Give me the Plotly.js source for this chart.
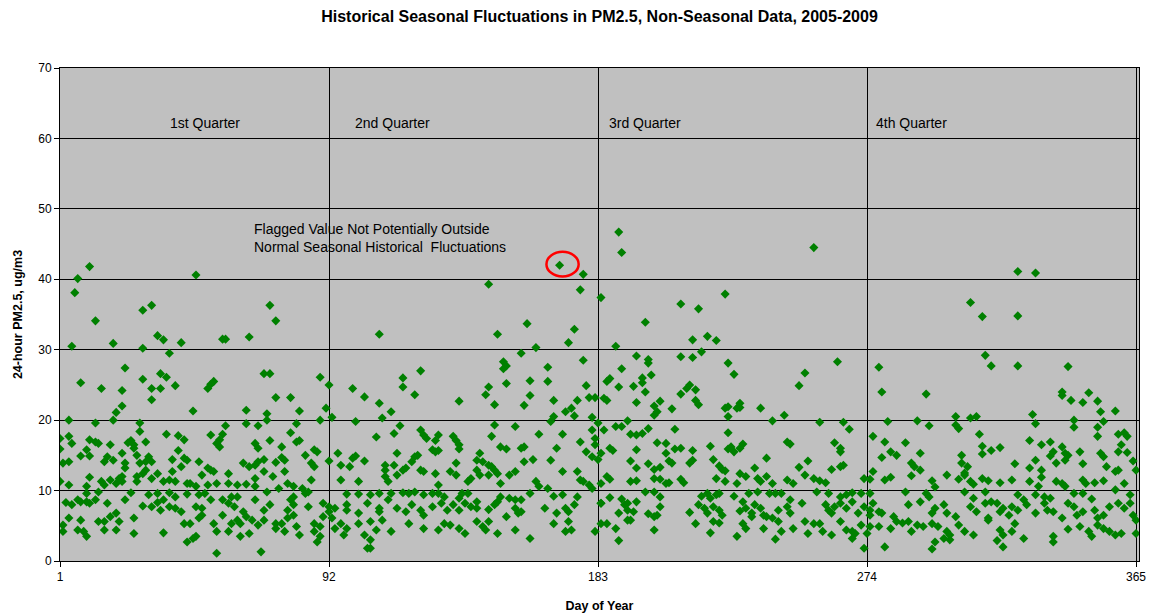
<!DOCTYPE html>
<html>
<head>
<meta charset="utf-8">
<script src="https://cdn.plot.ly/plotly-3.0.1.min.js"></script>
<style>html,body{margin:0;padding:0;background:#fff;}#chart{width:1154px;height:613px;}</style>
</head>
<body>
<div id="chart"></div>
<script>
// Day-of-year / 24-hour PM2.5 (ug/m3) readings, grouped by quarter
const q1Points = [
[11,41.8],[7,40.1],[6,38.1],[47,40.6],[29,35.6],[32,36.3],[13,34.1],[72,36.3],[74,34.1],[5,30.5],[19,30.9],[29,30.2],[34,32.0],[36,31.4],[38,29.5],[42,31.0],[56,31.5],[57,31.5],[65,31.8],[8,25.3],[15,24.5],[23,27.4],[22,24.2],[29,25.8],[32,24.5],[35,24.5],[35,26.6],[37,26.1],[40,24.9],[32,22.9],[22,22.0],[20,21.1],[46,21.3],[51,24.5],[53,25.5],[52,25.1],[64,21.4],[70,26.6],[72,26.6],[74,23.2],[79,23.2],[82,21.3],[71,20.9],[89,26.1],[92,25.0],[91,21.7],[93,20.4],
[4,20.0],[13,19.6],[19,20.0],[28,19.6],[57,19.2],[64,19.5],[68,19.2],[71,20.0],[81,19.5],[89,20.0],
[1,17.4],[4,17.7],[5,16.7],[11,17.2],[13,16.9],[14,16.7],[18,16.5],[24,16.8],[25,17.1],[26,16.5],[28,18.4],[30,16.9],[37,18.0],[41,17.8],[43,17.2],[52,17.9],[54,16.7],[55,17.2],[56,18.0],[55,16.2],[67,16.7],[68,16.0],[72,17.1],[76,16.2],[79,18.2],[81,16.9],[82,17.1],[87,15.8],[88,15.5],
[1,15.9],[2,13.9],[4,14.1],[8,14.9],[10,15.8],[11,14.9],[16,14.1],[17,14.8],[19,14.3],[22,15.3],[23,13.9],[26,16.0],[27,15.0],[28,13.9],[30,14.1],[31,14.8],[32,14.1],[39,14.4],[41,15.7],[43,14.6],[44,14.3],[42,13.4],[48,14.1],[51,13.2],[52,12.9],[53,12.7],[58,12.4],[63,13.9],[65,13.4],[67,13.6],[68,14.1],[70,14.4],[70,12.7],[74,14.0],[76,14.7],[77,14.3],[77,12.7],[84,15.0],[86,13.9],[92,14.2],[87,13.4],
[1,11.3],[4,10.8],[10,10.6],[11,11.9],[15,11.3],[16,10.8],[18,11.5],[20,11.0],[21,11.7],[22,12.0],[23,13.2],[22,11.3],[27,12.0],[27,11.3],[29,12.4],[30,12.9],[32,11.7],[34,12.4],[36,11.3],[38,11.5],[39,12.7],[40,11.3],[44,11.0],[45,11.0],[47,10.6],[49,12.2],[51,10.8],[54,11.0],[58,11.0],[61,10.8],[64,10.9],[67,11.7],[67,10.6],[73,12.0],[75,10.3],[78,11.0],[80,10.6],[83,10.3],[86,11.5],
[10,9.6],[14,9.8],[25,9.7],[31,9.4],[34,9.6],[38,9.7],[40,9.1],[44,9.5],[48,9.4],[50,9.6],[61,9.1],[71,9.8],[80,9.1],[84,9.6],[85,9.8],
[3,8.3],[5,8.0],[7,8.7],[8,8.4],[10,8.4],[11,8.2],[13,8.7],[17,8.2],[23,8.7],[29,7.8],[32,7.7],[34,8.3],[36,8.7],[35,7.2],[38,7.7],[40,7.5],[42,7.0],[47,7.7],[49,7.5],[52,8.7],[56,8.7],[58,8.2],[60,7.7],[59,9.1],[63,7.0],[67,8.7],[70,7.2],[72,8.0],[78,7.2],[79,8.7],[80,8.0],[85,7.7],[90,8.2],[92,7.0],
[4,6.1],[8,5.8],[2,5.1],[14,5.6],[16,5.6],[18,6.3],[20,6.8],[21,5.6],[26,6.1],[43,5.3],[45,5.3],[49,6.5],[48,6.1],[53,5.3],[56,6.5],[59,5.3],[61,5.8],[62,5.3],[64,6.3],[66,5.8],[68,5.1],[70,5.8],[74,5.3],[76,5.3],[78,6.1],[80,6.5],[81,4.9],[87,5.3],[89,4.9],[90,6.3],
[2,4.2],[7,4.4],[9,4.2],[10,3.5],[16,4.4],[20,4.4],[26,3.9],[36,4.0],[44,2.7],[46,3.2],[47,3.5],[54,4.2],[58,4.2],[62,3.5],[65,3.9],[74,4.6],[77,4.2],[82,3.7],[87,4.2],[88,2.7],[89,3.5],
[54,1.1],[69,1.3]
];
const q2Points = [
[170,42.0],[178,40.7],[177,38.5],[184,37.4],[146,39.3],[109,32.2],[149,32.2],[159,33.7],[175,32.9],[173,31.0],[162,30.3],[157,29.5],[178,28.5],[151,28.3],[152,27.7],[151,27.3],[166,27.5],[123,27.0],[117,26.0],[117,24.7],[100,24.5],[104,23.3],[109,22.4],[113,21.2],[110,20.3],[121,23.6],[136,22.7],[146,24.7],[145,23.6],[148,22.2],[152,25.2],[160,25.6],[160,23.5],[158,22.1],[166,25.5],[168,22.8],[179,24.9],[176,22.8],[180,23.2],[182,23.2],[172,21.2],[174,21.7],[175,20.6],[181,20.4],[168,20.5],[167,19.8],[101,19.8],
[114,18.1],[116,19.2],[148,19.3],[155,19.1],[181,18.6],
[108,17.6],[123,18.6],[124,17.9],[125,17.4],[128,17.1],[129,17.9],[134,17.7],[135,17.1],[136,16.5],[147,17.7],[150,16.2],[152,15.9],[158,16.2],[157,16.0],[163,18.0],[169,16.0],[171,18.0],[177,16.9],[182,17.4],[185,18.6],
[95,15.3],[96,13.6],[100,14.6],[101,14.9],[104,14.2],[99,13.4],[115,15.3],[111,13.6],[114,13.6],[118,13.2],[121,14.8],[122,15.0],[120,14.1],[127,15.8],[129,15.7],[128,15.5],[136,15.9],[135,13.9],[142,14.3],[143,15.3],[144,14.1],[146,13.6],[147,13.4],[158,14.1],[161,14.4],[167,14.3],[179,15.5],[181,14.8],[182,16.5],[184,15.3],
[96,11.5],[102,11.3],[111,12.9],[111,12.0],[112,11.3],[115,12.2],[117,12.9],[123,12.9],[124,12.7],[128,12.4],[129,10.8],[133,12.7],[135,12.2],[139,11.3],[140,11.7],[142,12.9],[143,12.2],[146,12.2],[148,12.9],[149,12.4],[150,11.0],[153,12.2],[155,12.7],[162,11.3],[163,10.6],[166,10.3],[171,12.7],[176,12.7],[177,11.5],[178,11.3],[180,10.8],[181,10.3],[184,11.0],
[98,9.5],[102,9.5],[106,9.4],[109,9.6],[113,9.6],[117,9.7],[119,9.6],[121,9.8],[124,9.4],[127,9.6],[129,9.6],[131,9.1],[136,8.9],[137,9.6],[139,9.6],[142,8.4],[150,9.1],[153,8.9],[155,8.7],[157,8.7],[160,9.6],[168,9.2],[171,9.4],[176,9.1],[184,8.2],
[92,7.7],[94,7.5],[98,8.0],[98,7.2],[102,6.8],[105,8.2],[109,7.5],[109,7.0],[112,8.7],[115,7.5],[118,7.0],[120,8.0],[123,7.2],[124,6.5],[127,7.7],[130,8.2],[132,7.2],[134,8.0],[136,7.2],[138,8.2],[140,7.7],[142,7.5],[146,7.3],[148,8.0],[149,8.4],[152,6.3],[155,7.5],[156,6.8],[157,7.0],[165,7.5],[169,6.8],[172,7.5],[173,7.0],[175,8.0],
[93,6.1],[94,4.6],[96,5.3],[98,4.6],[97,3.7],[102,5.3],[106,5.6],[110,5.8],[108,4.4],[104,3.7],[113,4.2],[119,5.3],[124,4.6],[129,4.4],[131,5.3],[133,5.1],[136,4.6],[138,3.9],[142,5.6],[144,4.9],[145,4.4],[146,5.6],[149,3.9],[155,4.4],[168,5.3],[173,5.6],[172,4.2],[174,4.4],[182,4.2],[184,5.3],
[105,1.8],[106,1.8],[106,3.0],[160,3.2]
];
const q3Points = [
[190,46.7],[191,43.8],[256,44.5],[226,37.9],[211,36.5],[217,35.8],[199,33.9],[215,31.4],[220,31.9],[223,31.3],[189,30.5],[218,29.7],[196,29.1],[200,28.6],[200,28.1],[211,29.0],[215,28.9],[227,28.1],[229,26.5],[264,28.3],[253,26.7],[251,24.9],[191,27.3],[187,25.9],[186,25.5],[190,24.7],[198,26.0],[198,25.3],[201,26.4],[195,24.8],[199,24.0],[185,23.1],[186,22.8],[196,22.5],[204,22.7],[202,22.0],[203,21.2],[202,20.7],[208,21.6],[211,23.7],[213,24.5],[214,25.0],[216,24.3],[216,22.8],[217,22.2],[226,21.7],[227,21.9],[227,20.5],[231,22.4],[231,21.8],[230,21.7],[238,21.7],[242,19.9],[246,20.7],[258,19.7],[266,19.7],[193,19.9],
[183,19.6],[189,19.1],[191,19.1],[194,18.0],[196,17.9],[198,18.1],[200,18.8],[209,18.7],[227,18.2],[268,18.7],
[187,16.0],[188,15.7],[196,15.8],[203,16.8],[206,16.7],[206,15.3],[209,15.9],[211,16.0],[215,15.7],[221,16.3],[227,15.9],[228,16.2],[229,15.5],[231,16.0],[232,16.6],[247,16.9],[248,16.6],[263,16.8],[265,16.0],[265,15.5],
[183,14.4],[194,14.2],[196,13.2],[200,13.8],[202,13.0],[204,13.3],[207,14.2],[208,13.9],[214,13.9],[215,14.3],[222,14.4],[224,13.5],[225,13.0],[226,12.8],[240,14.6],[251,13.3],[254,14.2],[262,13.0],[265,13.4],[266,13.6],
[186,12.0],[187,11.6],[194,11.3],[196,11.4],[202,11.7],[204,11.6],[206,11.0],[207,11.1],[211,11.6],[212,11.1],[223,11.7],[226,11.3],[230,11.0],[231,12.4],[233,12.0],[236,13.2],[237,11.7],[238,11.3],[240,12.0],[242,11.0],[247,11.5],[249,11.0],[253,12.2],[256,11.7],[258,11.4],[260,11.1],[273,11.7],[275,11.6],
[184,8.2],[187,9.0],[191,8.8],[193,8.2],[196,8.4],[199,9.8],[202,9.8],[204,9.1],[218,9.2],[220,9.6],[221,8.9],[223,9.4],[224,9.6],[229,9.2],[232,8.4],[234,9.6],[237,9.8],[241,9.6],[243,9.6],[245,9.6],[248,8.7],[257,9.8],[261,9.6],[265,9.1],[267,9.4],[269,9.7],[272,9.6],[275,9.6],
[190,6.8],[192,8.0],[193,7.2],[195,7.0],[200,6.7],[202,6.3],[204,7.7],[203,6.5],[214,6.9],[217,8.0],[219,7.5],[220,6.8],[222,7.7],[224,7.2],[225,6.5],[231,7.1],[233,7.5],[235,6.8],[236,8.0],[238,7.5],[239,6.5],[240,6.3],[244,7.2],[247,7.7],[248,6.8],[252,8.2],[260,8.0],[261,7.2],[262,6.8],[263,7.7],[265,8.2],[267,7.5],[269,8.4],[271,6.8],[273,7.7],[275,7.2],
[186,5.3],[189,4.6],[193,5.8],[194,5.8],[202,4.4],[216,5.3],[222,5.6],[224,5.4],[221,4.0],[230,3.5],[232,5.3],[233,4.6],[235,6.3],[239,4.6],[242,6.1],[244,5.6],[245,4.2],[249,4.6],[253,5.6],[254,3.9],[256,5.3],[258,5.3],[259,4.2],[262,3.7],[265,5.6],[267,4.4],[269,4.2],[270,3.9],[272,5.1],[274,3.9],[275,4.9],
[190,2.9],[243,3.1],[269,3.2],[273,1.8]
];
const q4Points = [
[325,41.1],[331,40.9],[309,36.7],[313,34.7],[325,34.8],[314,29.2],[316,27.7],[325,27.7],[342,27.6],[278,27.5],[279,24.0],[294,23.7],[340,24.0],[340,23.5],[343,22.8],[349,23.9],[347,22.5],[352,22.7],[353,21.2],[358,21.3],[330,20.8],[304,20.5],[309,20.3],[311,20.5],[281,19.8],[291,19.9],[344,20.0],[354,19.8],
[295,19.2],[304,19.3],[305,18.8],[331,19.5],[344,19.0],[352,19.0],
[276,17.7],[280,16.9],[287,16.8],[292,15.3],[282,15.5],[284,15.0],[279,14.7],[306,15.0],[312,18.0],[313,16.3],[313,15.2],[316,15.7],[319,16.1],[329,17.1],[333,16.5],[336,16.9],[337,15.5],[336,14.9],[340,16.2],[341,15.3],[342,15.0],[346,15.5],[352,17.7],[353,15.3],[354,14.8],[359,18.0],[361,18.2],[362,17.7],[360,16.5],[359,15.5],[362,15.4],
[276,12.7],[289,13.9],[290,13.4],[292,12.9],[306,13.9],[308,13.4],[307,12.5],[324,13.8],[329,13.2],[331,14.3],[333,12.9],[338,13.9],[341,14.3],[347,13.8],[355,13.4],[358,12.7],[359,12.9],[364,14.2],[365,12.9],
[280,11.5],[282,11.9],[289,12.1],[296,11.4],[297,10.5],[301,12.2],[305,11.6],[307,12.2],[309,11.3],[310,10.9],[313,11.7],[315,11.4],[319,11.1],[323,11.5],[329,11.3],[332,10.6],[333,11.9],[338,11.3],[340,11.0],[341,10.6],[347,11.5],[348,11.0],[351,11.1],[354,11.4],[361,11.0],[358,10.1],
[276,8.2],[287,9.8],[294,9.6],[295,9.1],[307,9.8],[310,8.9],[314,9.8],[316,8.4],[318,8.2],[325,9.4],[327,8.7],[331,9.4],[334,9.1],[336,8.9],[344,9.6],[347,9.6],[350,8.8],[363,9.4],
[275,6.5],[278,7.0],[279,6.8],[283,6.3],[288,8.0],[292,8.4],[296,6.8],[297,7.5],[300,8.0],[301,6.8],[304,6.3],[309,7.7],[311,7.0],[314,8.2],[315,6.1],[319,7.0],[320,7.5],[322,6.5],[323,7.7],[325,7.2],[328,8.0],[331,6.8],[334,8.2],[335,7.2],[337,7.0],[340,6.1],[342,8.2],[344,7.7],[345,6.5],[347,7.0],[351,7.2],[352,6.1],[354,6.5],[356,7.7],[359,8.2],[361,7.5],[363,8.2],[364,6.5],[365,5.8],
[278,4.9],[282,4.6],[284,5.6],[286,5.4],[288,5.6],[289,4.2],[291,5.1],[293,4.9],[296,5.3],[298,4.9],[301,4.2],[302,3.7],[305,5.1],[307,4.2],[310,3.7],[315,5.8],[319,4.4],[320,3.7],[323,4.2],[327,3.2],[324,5.3],[337,3.5],[342,4.5],[346,4.9],[349,4.2],[350,3.5],[352,5.1],[354,4.6],[356,4.2],[358,3.7],[360,3.9],[365,3.9],
[280,2.0],[296,1.7],[297,2.7],[300,3.2],[302,3.0],[318,2.9],[320,2.0],[337,2.7]
];

const quarterTickVals = [1, 92, 183, 274, 365];
const quarterTickText = ['1', '92', '183', '274', '365'];
const quarterLabels = ['1st Quarter', '2nd Quarter', '3rd Quarter', '4th Quarter'];
const quarterLabelDays = [37.5, 100, 186.2, 276.4];
const flaggedDay = 170;
const flaggedValue = 42.0;
const flaggedNote = 'Flagged Value Not Potentially Outside<br>Normal Seasonal Historical  Fluctuations';

const allPoints = q1Points.concat(q2Points, q3Points, q4Points);
const days = allPoints.map(p => p[0]);
const values = allPoints.map(p => p[1]);

const trace = {
  type: 'scatter', mode: 'markers',
  x: days, y: values,
  marker: {symbol: 'diamond', size: 7, color: '#008000', line: {width: 0}},
  hoverinfo: 'x+y', showlegend: false
};

const annotations = quarterLabels.map((t, i) => ({
  text: t, x: quarterLabelDays[i], y: 62.2, xref: 'x', yref: 'y',
  xanchor: 'left', yanchor: 'middle', showarrow: false,
  font: {size: 14, color: '#000'}
}));
annotations.push({
  text: flaggedNote, x: 66, y: 45.8, xref: 'x', yref: 'y',
  xanchor: 'left', yanchor: 'middle', align: 'left', showarrow: false,
  font: {size: 14, color: '#000'}
});

const layout = {
  width: 1154, height: 613,
  margin: {l: 60, r: 15, t: 68, b: 52},
  paper_bgcolor: '#ffffff', plot_bgcolor: '#c0c0c0',
  font: {family: 'Liberation Sans, Arial, sans-serif', color: '#000', size: 12},
  title: {
    text: '<b>Historical Seasonal Fluctuations in PM2.5, Non-Seasonal Data, 2005-2009</b>',
    x: 0.5, xref: 'paper', y: 1 - 16/613, yref: 'container', yanchor: 'middle',
    font: {size: 16, color: '#000'}
  },
  xaxis: {
    range: [1, 366], tickvals: quarterTickVals, ticktext: quarterTickText,
    ticks: 'outside', ticklen: 5, tickcolor: '#000', tickwidth: 1,
    showgrid: true, gridcolor: '#000', gridwidth: 1,
    showline: true, linecolor: '#000', linewidth: 1, mirror: true, zeroline: false,
    tickfont: {size: 12},
    title: {text: '<b>Day of Year</b>', font: {size: 12.5}, standoff: 17}
  },
  yaxis: {
    range: [0, 70], dtick: 10, tick0: 0,
    ticks: 'outside', ticklen: 5, tickcolor: '#000', tickwidth: 1,
    showgrid: true, gridcolor: '#000', gridwidth: 1,
    showline: true, linecolor: '#000', linewidth: 1, mirror: true, zeroline: false,
    tickfont: {size: 12},
    title: {text: '<b>24-hour PM2.5, ug/m3</b>', font: {size: 12.5}, standoff: 12}
  },
  shapes: [{
    type: 'circle', xref: 'x', yref: 'y',
    x0: flaggedDay + 1 - 5.45, x1: flaggedDay + 1 + 5.45,
    y0: flaggedValue + 0.15 - 1.75, y1: flaggedValue + 0.15 + 1.75,
    line: {color: '#ff0000', width: 2.5}
  }],
  annotations: annotations
};

Plotly.newPlot('chart', [trace], layout, {displayModeBar: false, staticPlot: true});
</script>
</body>
</html>
